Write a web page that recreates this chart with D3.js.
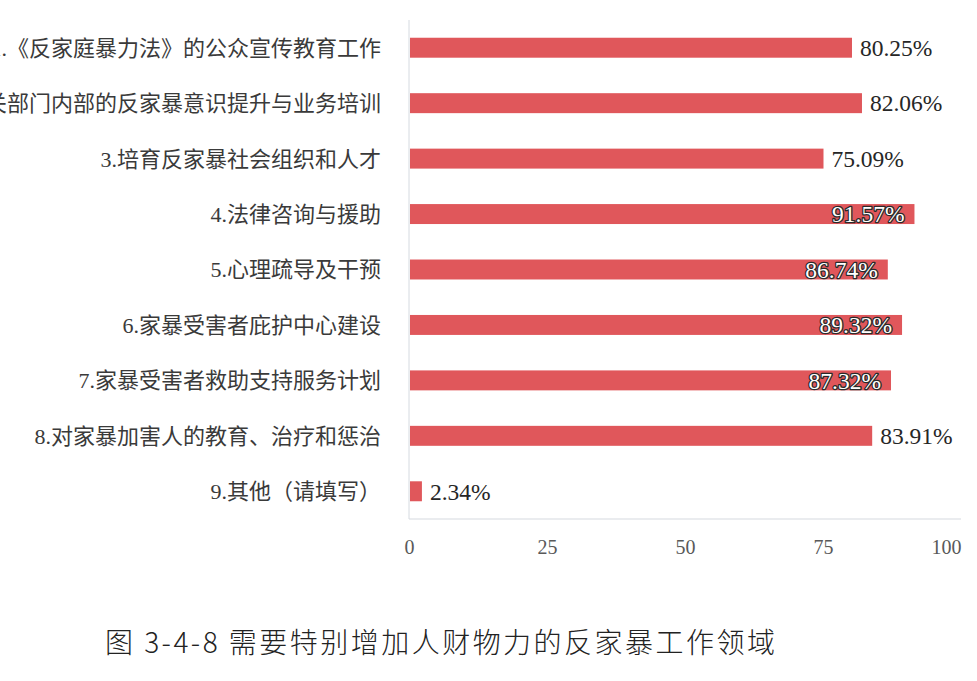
<!DOCTYPE html>
<html>
<head>
<meta charset="utf-8">
<script src="https://cdn.jsdelivr.net/npm/d3@7"></script>
<style>
  html, body { margin: 0; padding: 0; background: #ffffff; }
  svg { display: block; }
</style>
</head>
<body>
<script>
const categories = [
  "1.《反家庭暴力法》的公众宣传教育工作",
  "2.相关部门内部的反家暴意识提升与业务培训",
  "3.培育反家暴社会组织和人才",
  "4.法律咨询与援助",
  "5.心理疏导及干预",
  "6.家暴受害者庇护中心建设",
  "7.家暴受害者救助支持服务计划",
  "8.对家暴加害人的教育、治疗和惩治",
  "9.其他（请填写）"
];
const values = [80.25, 82.06, 75.09, 91.57, 86.74, 89.32, 87.32, 83.91, 2.34];
const insideLabel = [false, false, false, true, true, true, true, false, false];
const tickValues = [0, 25, 50, 75, 100];
const title = "图 3-4-8 需要特别增加人财物力的反家暴工作领域";

const W = 977, H = 681;
const svg = d3.select("body").append("svg").attr("width", W).attr("height", H);

const x = d3.scaleLinear().domain([0, 100]).range([409, 961]);
const y = d3.scaleBand().domain(categories).range([20, 519])
  .paddingInner(0.64).paddingOuter(0.32);

const serif = "'Liberation Serif', 'Times New Roman', 'Noto Sans CJK SC', serif";
const labelFont = "'Liberation Serif', 'Noto Sans CJK SC', serif";

// axis lines
svg.append("line").attr("x1", x(0)).attr("x2", x(0)).attr("y1", 20).attr("y2", 519)
  .attr("stroke", "#d5dae0").attr("stroke-width", 1);
svg.append("line").attr("x1", x(0)).attr("x2", x(100)).attr("y1", 519).attr("y2", 519)
  .attr("stroke", "#d5dae0").attr("stroke-width", 1.2);

// x tick labels
const xAxis = d3.axisBottom(x).tickValues(tickValues).tickSize(0).tickPadding(0);
const gx = svg.append("g").attr("transform", "translate(0,541)").call(xAxis);
gx.select(".domain").remove();
gx.selectAll("text")
  .attr("font-family", serif).attr("font-size", 20).attr("fill", "#595959")
  .attr("dy", "0.66em")
  .attr("text-anchor", d => d === 100 ? "end" : "middle");

// category labels
const gy = svg.append("g").attr("transform", `translate(${x(0) - 28},0)`)
  .call(d3.axisLeft(y).tickSize(0).tickPadding(0));
gy.select(".domain").remove();
gy.selectAll("text")
  .attr("font-family", labelFont).attr("font-size", 22).attr("fill", "#3a3a3a")
  .attr("dy", "0.36em");

// bars
svg.append("g").selectAll("rect").data(values).join("rect")
  .attr("x", x(0) + 1)
  .attr("y", (d, i) => y(categories[i]))
  .attr("width", d => x(d) - x(0) - 1)
  .attr("height", y.bandwidth())
  .attr("fill", "#e0575b");

// value labels
svg.append("g").selectAll("text").data(values).join("text")
  .attr("x", (d, i) => insideLabel[i] ? x(d) - 10 : x(d) + 8)
  .attr("y", (d, i) => y(categories[i]) + y.bandwidth() / 2)
  .attr("dy", "0.35em")
  .attr("text-anchor", (d, i) => insideLabel[i] ? "end" : "start")
  .attr("font-family", serif).attr("font-size", 23.5)
  .attr("fill", (d, i) => insideLabel[i] ? "#ffffff" : "#262626")
  .attr("stroke", (d, i) => insideLabel[i] ? "#2a2a2a" : "none")
  .attr("stroke-width", 2.6)
  .attr("paint-order", "stroke")
  .attr("stroke-linejoin", "round")
  .text(d => d.toFixed(2) + "%");

// title
svg.append("text")
  .attr("x", 105).attr("y", 653)
  .attr("font-family", "'Noto Sans CJK SC', sans-serif")
  .attr("font-size", 28).attr("font-weight", 300).attr("fill", "#222")
  .attr("textLength", 670).attr("lengthAdjust", "spacing")
  .text(title);
</script>
</body>
</html>
